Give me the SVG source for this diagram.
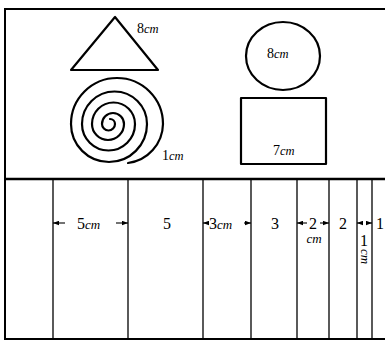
<svg xmlns="http://www.w3.org/2000/svg" width="385" height="342" viewBox="0 0 385 342">
<style>
.shape{fill:none;stroke:#000;stroke-width:2.2;stroke-linejoin:round;stroke-linecap:round}
.frame{fill:none;stroke:#000;stroke-width:2}
.col{stroke:#000;stroke-width:1.3}
.dim{stroke:#000;stroke-width:1.1;marker-end:url(#ah)}
text{font-family:"Liberation Serif","DejaVu Serif",serif;fill:#000}
.lab{font-size:14px}
.big{font-size:16px}
.cm{font-style:italic;font-size:12.5px}
.cmb{font-style:italic;font-size:13px}
</style>
<defs>
<marker id="ah" viewBox="0 0 8 6" refX="8" refY="3" markerWidth="6" markerHeight="5" orient="auto" markerUnits="userSpaceOnUse">
<path d="M0,0 L8,3 L0,6 Z" fill="#000"/>
</marker>
</defs>
<rect width="385" height="342" fill="#fff"/>
<g id="frame">
<path class="frame" d="M390 9 H5 V339 H390"/>
<line x1="5" y1="179" x2="390" y2="179" stroke="#000" stroke-width="2.6"/>
</g>
<g id="triangle">
<polygon class="shape" points="115,17 71,70 158,70"/>
<text class="lab" x="137" y="33">8<tspan class="cm">cm</tspan></text>
</g>
<g id="circle">
<ellipse class="shape" cx="283" cy="56" rx="37" ry="34"/>
<text class="lab" x="267" y="58">8<tspan class="cm">cm</tspan></text>
</g>
<g id="spiral">
<path class="shape" stroke-width="2.6" d="M110 119 A5 5 0 0 1 115 124 A6.5 6.5 0 0 1 102 124 A11 11 0 0 1 124 124 A16 16 0 0 1 92 124 A21.5 21.5 0 0 1 135 124 A26.5 26.5 0 0 1 82 124 A32.5 32.5 0 0 1 147 124 A38 38 0 0 1 71 124 A46 46 0 0 1 163 124 A40 40 0 0 1 128 163"/>
<text class="lab" x="162" y="160">1<tspan class="cm">cm</tspan></text>
</g>
<g id="rectangle">
<rect class="shape" x="241" y="98" width="85" height="66"/>
<text class="lab" x="273" y="155">7<tspan class="cm">cm</tspan></text>
</g>
<g id="strips">
<line class="col" x1="53" y1="179" x2="53" y2="339"/>
<line class="col" x1="128" y1="179" x2="128" y2="339"/>
<line class="col" x1="203" y1="179" x2="203" y2="339"/>
<line class="col" x1="251" y1="179" x2="251" y2="339"/>
<line class="col" x1="297" y1="179" x2="297" y2="339"/>
<line class="col" x1="329" y1="179" x2="329" y2="339"/>
<line class="col" x1="357" y1="179" x2="357" y2="339"/>
<line class="col" x1="372" y1="179" x2="372" y2="339"/>
<text class="big" x="77" y="229">5<tspan class="cmb">cm</tspan></text>
<text class="big" x="167" y="229" text-anchor="middle">5</text>
<text class="big" x="209" y="229">3<tspan class="cmb">cm</tspan></text>
<text class="big" x="275" y="229" text-anchor="middle">3</text>
<text class="big" x="313" y="229" text-anchor="middle">2</text>
<text class="cmb" x="314" y="243" text-anchor="middle">cm</text>
<text class="big" x="343" y="229" text-anchor="middle">2</text>
<text class="big" x="364" y="246" text-anchor="middle">1</text>
<text class="cmb" transform="translate(361 249) rotate(90)">cm</text>
<text class="big" x="380" y="229" text-anchor="middle">1</text>
</g>
<g id="connectors">
<line class="dim" x1="65" y1="223" x2="53" y2="223"/>
<line class="dim" x1="116" y1="223" x2="128" y2="223"/>
<line class="dim" x1="209" y1="223" x2="203" y2="223"/>
<line class="dim" x1="244" y1="223" x2="251" y2="223"/>
<line class="dim" x1="307" y1="223" x2="297" y2="223"/>
<line class="dim" x1="320" y1="223" x2="329" y2="223"/>
<line class="dim" x1="363" y1="223" x2="357" y2="223"/>
<line class="dim" x1="366" y1="223" x2="372" y2="223"/>
</g>
</svg>
